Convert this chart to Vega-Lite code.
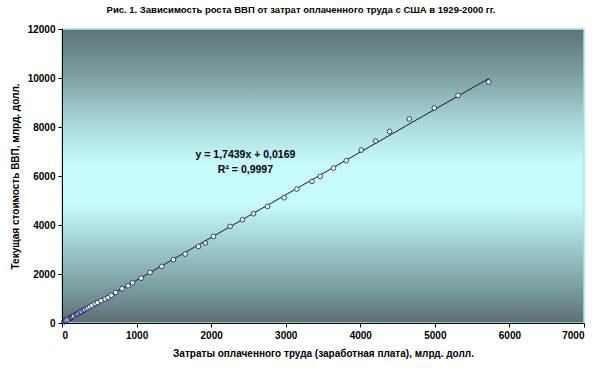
{
  "$schema": "https://vega.github.io/schema/vega-lite/v6.json",
  "width": 522,
  "height": 294,
  "autosize": "none",
  "padding": {"left": 62, "top": 29, "right": 16, "bottom": 49},
  "background": "white",
  "title": {
    "text": "Рис. 1. Зависимость роста ВВП от затрат оплаченного труда с США в 1929-2000 гг.",
    "font": "Liberation Sans",
    "fontSize": 9.5,
    "fontWeight": "bold",
    "color": "#000000",
    "anchor": "middle",
    "dx": -22,
    "offset": 10
  },
  "view": {
    "stroke": "#9fe6e8",
    "strokeWidth": 1.5,
    "fill": {
      "gradient": "linear",
      "x1": 0, "y1": 0, "x2": 0, "y2": 1,
      "stops": [
        {"offset": 0, "color": "#5d7577"},
        {"offset": 0.15, "color": "#7b9c9d"},
        {"offset": 0.32, "color": "#a9d8da"},
        {"offset": 0.46, "color": "#c6fafb"},
        {"offset": 0.6, "color": "#c6fafb"},
        {"offset": 0.76, "color": "#98c5c7"},
        {"offset": 0.89, "color": "#789a9c"},
        {"offset": 1, "color": "#5b6f71"}
      ]
    }
  },
  "config": {
    "axis": {
      "grid": false,
      "labelFont": "Liberation Sans",
      "labelFontSize": 10,
      "labelFontWeight": "bold",
      "labelColor": "#000000",
      "titleFont": "Liberation Sans",
      "titleFontSize": 10,
      "titleFontWeight": "bold",
      "titleColor": "#000000",
      "domainColor": "#000000",
      "tickColor": "#000000",
      "tickSize": 4,
      "labelPadding": 3
    }
  },
  "layer": [
    {
      "data": {"values": [{"x": 0, "y": 0.0169}, {"x": 5722, "y": 9978.6}]},
      "mark": {"type": "line", "color": "#1a1a1a", "strokeWidth": 1},
      "encoding": {
        "x": {"field": "x", "type": "quantitative", "scale": {"domain": [0, 7000], "nice": false},
              "axis": {"values": [0,1000,2000,3000,4000,5000,6000,7000], "title": "Затраты оплаченного труда (заработная плата), млрд. долл.", "titlePadding": 8, "format": "d"}},
        "y": {"field": "y", "type": "quantitative", "scale": {"domain": [0, 12000], "nice": false},
              "axis": {"values": [0,2000,4000,6000,8000,10000,12000], "title": "Текущая стоимость ВВП, млрд. долл.", "titlePadding": 7, "format": "d"}}
      }
    },
    {
      "data": {"values": [
        {"year":1929,"comp":51,"gdp":104},{"year":1930,"comp":47,"gdp":91},{"year":1931,"comp":40,"gdp":77},
        {"year":1932,"comp":31,"gdp":59},{"year":1933,"comp":30,"gdp":56},{"year":1934,"comp":34,"gdp":66},
        {"year":1935,"comp":37,"gdp":73},{"year":1936,"comp":43,"gdp":84},{"year":1937,"comp":48,"gdp":92},
        {"year":1938,"comp":45,"gdp":86},{"year":1939,"comp":48,"gdp":92},{"year":1940,"comp":52,"gdp":101},
        {"year":1941,"comp":65,"gdp":127},{"year":1942,"comp":85,"gdp":162},{"year":1943,"comp":110,"gdp":199},
        {"year":1944,"comp":121,"gdp":220},{"year":1945,"comp":123,"gdp":223},{"year":1946,"comp":118,"gdp":222},
        {"year":1947,"comp":130,"gdp":244},{"year":1948,"comp":144,"gdp":269},{"year":1949,"comp":145,"gdp":267},
        {"year":1950,"comp":157,"gdp":294},{"year":1951,"comp":182,"gdp":339},{"year":1952,"comp":195,"gdp":358},
        {"year":1953,"comp":209,"gdp":379},{"year":1954,"comp":208,"gdp":380},{"year":1955,"comp":225,"gdp":415},
        {"year":1956,"comp":243,"gdp":438},{"year":1957,"comp":257,"gdp":461},{"year":1958,"comp":259,"gdp":467},
        {"year":1959,"comp":281,"gdp":507},{"year":1960,"comp":296,"gdp":526},{"year":1961,"comp":305,"gdp":545},
        {"year":1962,"comp":327,"gdp":586},{"year":1963,"comp":345,"gdp":618},{"year":1964,"comp":371,"gdp":664},
        {"year":1965,"comp":400,"gdp":719},{"year":1966,"comp":443,"gdp":788},{"year":1967,"comp":475,"gdp":834},
        {"year":1968,"comp":524,"gdp":911},{"year":1969,"comp":578,"gdp":982},{"year":1970,"comp":617,"gdp":1040},
        {"year":1971,"comp":660,"gdp":1130},{"year":1972,"comp":720,"gdp":1245},{"year":1973,"comp":805,"gdp":1400},
        {"year":1974,"comp":885,"gdp":1520},{"year":1975,"comp":945,"gdp":1640},{"year":1976,"comp":1060,"gdp":1830},
        {"year":1977,"comp":1181,"gdp":2065},{"year":1978,"comp":1338,"gdp":2310},{"year":1979,"comp":1494,"gdp":2584},
        {"year":1980,"comp":1651,"gdp":2816},{"year":1981,"comp":1830,"gdp":3127},{"year":1982,"comp":1923,"gdp":3265},
        {"year":1983,"comp":2031,"gdp":3535},{"year":1984,"comp":2255,"gdp":3943},{"year":1985,"comp":2420,"gdp":4216},
        {"year":1986,"comp":2568,"gdp":4461},{"year":1987,"comp":2756,"gdp":4759},{"year":1988,"comp":2980,"gdp":5114},
        {"year":1989,"comp":3150,"gdp":5469},{"year":1990,"comp":3352,"gdp":5780},{"year":1991,"comp":3463,"gdp":5984},
        {"year":1992,"comp":3642,"gdp":6326},{"year":1993,"comp":3812,"gdp":6624},{"year":1994,"comp":4013,"gdp":7061},
        {"year":1995,"comp":4205,"gdp":7429},{"year":1996,"comp":4393,"gdp":7820},{"year":1997,"comp":4658,"gdp":8327},
        {"year":1998,"comp":4993,"gdp":8776},{"year":1999,"comp":5311,"gdp":9290},{"year":2000,"comp":5722,"gdp":9837}
      ]},
      "mark": {"type": "point", "shape": "circle", "filled": true, "fill": "#ffffff", "stroke": "#101060", "strokeWidth": 0.8, "size": 22, "opacity": 1},
      "encoding": {
        "x": {"field": "comp", "type": "quantitative"},
        "y": {"field": "gdp", "type": "quantitative"}
      }
    },
    {
      "data": {"values": [
        {"label": "y = 1,7439x + 0,0169", "x": 2460, "y": 6870},
        {"label": "R² = 0,9997", "x": 2460, "y": 6250}
      ]},
      "mark": {"type": "text", "font": "Liberation Sans", "fontSize": 10.5, "fontWeight": "bold", "color": "#000000", "align": "center", "baseline": "middle"},
      "encoding": {
        "x": {"field": "x", "type": "quantitative"},
        "y": {"field": "y", "type": "quantitative"},
        "text": {"field": "label"}
      }
    }
  ]
}
